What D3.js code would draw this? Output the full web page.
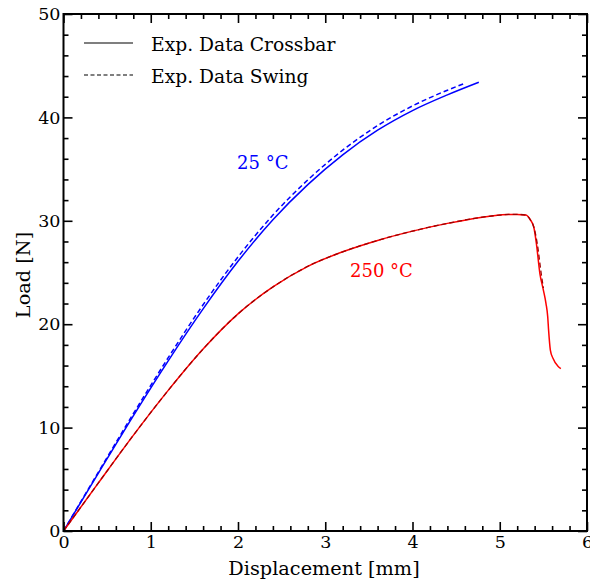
<!DOCTYPE html>
<html>
<head>
<meta charset="utf-8">
<script src="https://cdn.jsdelivr.net/npm/d3@7"></script>
<style>
  html, body { margin: 0; padding: 0; background: #fff; }
  svg { display: block; font-family: "DejaVu Serif", serif; }
</style>
</head>
<body>
<svg id="chart" width="590" height="583"></svg>
<script>
// ---- data (displacement [mm], load [N]) ----
const crossbar25X = [0, 0.4, 0.8, 1.2, 1.6, 2.0, 2.4, 2.8, 3.2, 3.6, 4.0, 4.4, 4.76];
const crossbar25Y = [0, 5.6, 11.14, 16.46, 21.48, 26.08, 30.1, 33.5, 36.38, 38.76, 40.66, 42.18, 43.4];
const swing25X = [0, 0.4, 0.8, 1.2, 1.6, 2.0, 2.4, 2.8, 3.2, 3.6, 4.0, 4.4, 4.6];
const swing25Y = [0, 5.7, 11.34, 16.76, 21.88, 26.5, 30.55, 33.95, 36.83, 39.21, 41.11, 42.63, 43.3];
const crossbar250X = [0, 0.4, 0.8, 1.2, 1.6, 2.0, 2.4, 2.8, 3.2, 3.6, 4.0, 4.4, 4.8, 5.0, 5.1, 5.2, 5.3, 5.35, 5.39, 5.42, 5.46, 5.5, 5.53, 5.55, 5.56, 5.58, 5.61, 5.67, 5.7];
const crossbar250Y = [0, 4.65, 9.25, 13.6, 17.6, 21.0, 23.6, 25.6, 27.0, 28.1, 29.0, 29.75, 30.35, 30.55, 30.62, 30.62, 30.55, 30.1, 29.4, 27.8, 24.9, 23.3, 22.0, 20.7, 19.4, 17.5, 16.7, 15.9, 15.7];
const swing250X = [0, 0.4, 0.8, 1.2, 1.6, 2.0, 2.4, 2.8, 3.2, 3.6, 4.0, 4.4, 4.8, 5.0, 5.1, 5.2, 5.3, 5.35, 5.39, 5.43, 5.475, 5.5];
const swing250Y = [0, 4.65, 9.25, 13.6, 17.6, 21.0, 23.6, 25.6, 27.0, 28.1, 29.0, 29.75, 30.35, 30.55, 30.62, 30.62, 30.55, 30.1, 29.4, 27.8, 24.9, 23.5];

const xMajorTicks = [0, 1, 2, 3, 4, 5, 6];
const yMajorTicks = [0, 10, 20, 30, 40, 50];
const legendLabels = ["Exp. Data Crossbar", "Exp. Data Swing"];
const curveLabels = ["25 °C", "250 °C"];
const xTitle = "Displacement [mm]";
const yTitle = "Load [N]";

// ---- layout ----
const svg = d3.select("#chart");
const L = 63.5, R = 587, T = 14, B = 531;
const x = d3.scaleLinear().domain([0, 6]).range([L, R]);
const y = d3.scaleLinear().domain([0, 50]).range([B, T]);
const tickFs = 17.5, titleFs = 19.3, legendFs = 18.7, labelFs = 18;

const zip = (xs, ys) => xs.map((v, i) => [v, ys[i]]);
const line = d3.line().x(d => x(d[0])).y(d => y(d[1])).curve(d3.curveMonotoneX);

const plot = svg.append("g");
plot.append("path").datum(zip(crossbar25X, crossbar25Y)).attr("d", line)
  .attr("fill", "none").attr("stroke", "#0000ff").attr("stroke-width", 1.5);
plot.append("path").datum(zip(swing25X, swing25Y)).attr("d", line)
  .attr("fill", "none").attr("stroke", "#0000ff").attr("stroke-width", 1.5).attr("stroke-dasharray", "5,3");
plot.append("path").datum(zip(crossbar250X, crossbar250Y)).attr("d", line)
  .attr("fill", "none").attr("stroke", "#ff0000").attr("stroke-width", 1.5);
plot.append("path").datum(zip(swing250X, swing250Y)).attr("d", line)
  .attr("fill", "none").attr("stroke", "#a00000").attr("stroke-width", 1.3).attr("stroke-dasharray", "5,3");

// ---- axes ----
const xMinor = d3.range(0, 6.0001, 0.2).filter(v => Math.abs(v - Math.round(v)) > 1e-6);
const yMinor = d3.range(0, 50.0001, 2).filter(v => v % 10 !== 0);

function styleAxis(g) {
  g.select(".domain").remove();
  g.selectAll(".tick line").attr("stroke", "#000").attr("stroke-width", 1.6);
  g.selectAll("text").attr("font-family", "DejaVu Serif").attr("font-size", tickFs).attr("fill", "#000");
}
// bottom
svg.append("g").attr("transform", `translate(0,${B})`)
  .call(d3.axisBottom(x).tickValues(xMajorTicks).tickSize(-9).tickPadding(5).tickFormat(d3.format("d")))
  .call(styleAxis);
svg.append("g").attr("transform", `translate(0,${B})`)
  .call(d3.axisBottom(x).tickValues(xMinor).tickSize(-5).tickFormat(""))
  .call(styleAxis);
// top
svg.append("g").attr("transform", `translate(0,${T})`)
  .call(d3.axisTop(x).tickValues(xMajorTicks).tickSize(-9).tickFormat(""))
  .call(styleAxis);
svg.append("g").attr("transform", `translate(0,${T})`)
  .call(d3.axisTop(x).tickValues(xMinor).tickSize(-5).tickFormat(""))
  .call(styleAxis);
// left
svg.append("g").attr("transform", `translate(${L},0)`)
  .call(d3.axisLeft(y).tickValues(yMajorTicks).tickSize(-9).tickPadding(3).tickFormat(d3.format("d")))
  .call(styleAxis);
svg.append("g").attr("transform", `translate(${L},0)`)
  .call(d3.axisLeft(y).tickValues(yMinor).tickSize(-5).tickFormat(""))
  .call(styleAxis);
// right
svg.append("g").attr("transform", `translate(${R},0)`)
  .call(d3.axisRight(y).tickValues(yMajorTicks).tickSize(-9).tickFormat(""))
  .call(styleAxis);
svg.append("g").attr("transform", `translate(${R},0)`)
  .call(d3.axisRight(y).tickValues(yMinor).tickSize(-5).tickFormat(""))
  .call(styleAxis);

// frame
svg.append("rect").attr("x", L).attr("y", T).attr("width", R - L).attr("height", B - T)
  .attr("fill", "none").attr("stroke", "#000").attr("stroke-width", 2);

// titles
svg.append("text").attr("x", 324).attr("y", 575).attr("text-anchor", "middle")
  .attr("font-size", titleFs).text(xTitle);
svg.append("text").attr("transform", `translate(29.5,275) rotate(-90)`)
  .attr("text-anchor", "middle").attr("font-size", titleFs).text(yTitle);

// legend
const legend = svg.append("g");
legendLabels.forEach((lab, i) => {
  const ly = 43 + i * 32;
  legend.append("line").attr("x1", 84).attr("x2", 133).attr("y1", ly).attr("y2", ly)
    .attr("stroke", "#000").attr("stroke-width", 1.2)
    .attr("stroke-dasharray", i === 1 ? "4,2.5" : null);
  legend.append("text").attr("x", 151).attr("y", ly + 8).attr("font-size", legendFs).text(lab);
});

// curve labels
svg.append("text").attr("x", 237).attr("y", 169).attr("font-size", labelFs).attr("fill", "#0000ff").text(curveLabels[0]);
svg.append("text").attr("x", 350).attr("y", 277).attr("font-size", labelFs).attr("fill", "#ff0000").text(curveLabels[1]);
</script>
</body>
</html>
